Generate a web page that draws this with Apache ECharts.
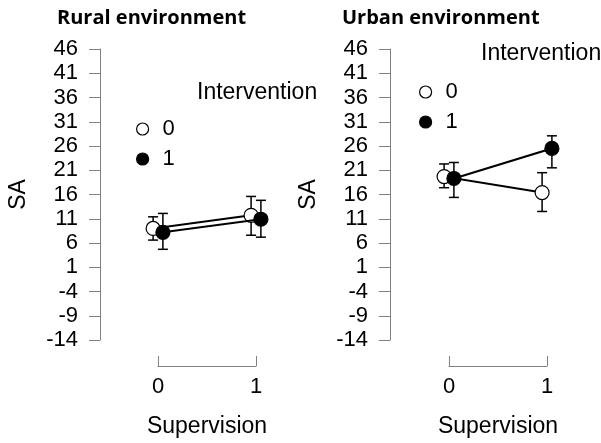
<!DOCTYPE html>
<html><head><meta charset="utf-8">
<script src="https://cdn.jsdelivr.net/npm/echarts@6/dist/echarts.min.js"></script>
<style>html,body{margin:0;padding:0;background:#fff}#c{width:601px;height:443px}</style>
</head><body><div id="c"></div>
<script>
// ---- data ----
const panelTitles = ['Rural environment', 'Urban environment'];
const supervisionLabels = ['0', '1'];
const supervisionValues = [0, 1];
const interventionGroups = ['0', '1'];
const legendTitle = 'Intervention';
const yAxisTitle = 'SA';
const xAxisTitle = 'Supervision';
const yMin = -14, yMax = 46, yStep = 5;

// Rural: intervention 0 / 1 (mean, lower, upper)
const ruralMean0 = [9.0, 11.7];
const ruralLow0  = [6.6, 7.6];
const ruralHigh0 = [11.4, 15.6];
const ruralMean1 = [8.2, 10.9];
const ruralLow1  = [4.7, 7.2];
const ruralHigh1 = [12.1, 14.8];
// Urban
const urbanMean0 = [19.7, 16.4];
const urbanLow0  = [17.4, 12.5];
const urbanHigh0 = [22.3, 20.5];
const urbanMean1 = [19.3, 25.5];
const urbanLow1  = [15.4, 21.5];
const urbanHigh1 = [22.6, 28.1];

const panels = [
  [{mean: ruralMean0, low: ruralLow0, high: ruralHigh0}, {mean: ruralMean1, low: ruralLow1, high: ruralHigh1}],
  [{mean: urbanMean0, low: urbanLow0, high: urbanHigh0}, {mean: urbanMean1, low: urbanLow1, high: urbanHigh1}]
];

// ---- layout / style ----
const dodge = [-0.05, 0.05];
const gridLefts = [158, 449];
const yOffsets = [58, 59];
const titleLefts = [57, 342];
const legendTitlePos = [[197, 81], [481, 42]];
const legendPos = [[136, 118], [419, 81]];
const fills = ['#ffffff', '#000000'];
const axisColor = '#808080';
const font = 'Liberation Sans, Arial, sans-serif';

const chart = echarts.init(document.getElementById('c'), null, {renderer: 'canvas'});

const grids = [], xAxes = [], yAxes = [], series = [], titles = [], legends = [];

panels.forEach((groups, p) => {
  grids.push({left: gridLefts[p], width: 98, top: 49, height: 292});
  xAxes.push({
    gridIndex: p, type: 'value', min: 0, max: 1, interval: 1, offset: 26,
    axisLine: {show: true, onZero: false, lineStyle: {color: axisColor, width: 1}},
    axisTick: {show: true, inside: true, length: 10, lineStyle: {color: axisColor}},
    axisLabel: {color: '#000', fontSize: 22, fontFamily: font, margin: 10,
      formatter: v => supervisionLabels[supervisionValues.indexOf(v)] ?? ''},
    splitLine: {show: false},
    name: xAxisTitle, nameLocation: 'middle', nameGap: 49,
    nameTextStyle: {color: '#000', fontSize: 23, fontFamily: font}
  });
  yAxes.push({
    gridIndex: p, type: 'value', min: yMin, max: yMax, interval: yStep, offset: yOffsets[p],
    axisLine: {show: true, onZero: false, lineStyle: {color: axisColor, width: 1}},
    axisTick: {show: true, inside: false, length: 11, lineStyle: {color: axisColor}},
    axisLabel: {color: '#000', fontSize: 22, fontFamily: font, margin: 22},
    splitLine: {show: false},
    name: yAxisTitle, nameLocation: 'middle', nameGap: 70, nameRotate: 90,
    nameTextStyle: {color: '#000', fontSize: 23, fontFamily: font}
  });
  titles.push({
    text: panelTitles[p], left: titleLefts[p], top: 8, padding: 0,
    textStyle: {fontFamily: 'Open Sans, sans-serif', fontWeight: 'bold', fontSize: 20, color: '#000'}
  });
  titles.push({
    text: legendTitle, left: legendTitlePos[p][0], top: legendTitlePos[p][1], padding: 0,
    textStyle: {fontFamily: font, fontWeight: 'normal', fontSize: 23, color: '#000'}
  });
  legends.push({
    orient: 'vertical', left: legendPos[p][0], top: legendPos[p][1], padding: 0,
    itemWidth: 12, itemHeight: 12, itemGap: 8, selectedMode: false,
    textStyle: {fontFamily: font, fontSize: 22, color: '#000', padding: [0, 0, 0, 9]},
    data: interventionGroups.map((g, gi) => ({
      name: g, icon: 'circle',
      itemStyle: {color: fills[gi], borderColor: '#000', borderWidth: 1.2}
    }))
  });

  groups.forEach((gr, gi) => {
    // error bars
    series.push({
      type: 'custom', name: interventionGroups[gi] + '_err', xAxisIndex: p, yAxisIndex: p, z: 2,
      clip: false, silent: true,
      encode: {x: 0, y: [1, 2]},
      data: supervisionValues.map((x, i) => [x + dodge[gi], gr.low[i], gr.high[i]]),
      renderItem: (params, api) => {
        const lo = api.coord([api.value(0), api.value(1)]);
        const hi = api.coord([api.value(0), api.value(2)]);
        const hw = 5;
        const st = {stroke: '#000', lineWidth: 1.5};
        return {type: 'group', children: [
          {type: 'line', shape: {x1: lo[0], y1: lo[1], x2: hi[0], y2: hi[1]}, style: st},
          {type: 'line', shape: {x1: lo[0] - hw, y1: lo[1], x2: lo[0] + hw, y2: lo[1]}, style: st},
          {type: 'line', shape: {x1: hi[0] - hw, y1: hi[1], x2: hi[0] + hw, y2: hi[1]}, style: st}
        ]};
      }
    });
    // means with connecting line
    series.push({
      type: 'line', name: interventionGroups[gi], xAxisIndex: p, yAxisIndex: p, z: 3 + gi,
      clip: false, silent: true, animation: false,
      data: supervisionValues.map((x, i) => [x + dodge[gi], gr.mean[i]]),
      symbol: 'circle', symbolSize: 14, showSymbol: true,
      lineStyle: {color: '#000', width: 2},
      itemStyle: {color: fills[gi], borderColor: '#000', borderWidth: 1.2}
    });
  });
});

chart.setOption({
  backgroundColor: '#fff',
  animation: false,
  title: titles,
  legend: legends,
  grid: grids,
  xAxis: xAxes,
  yAxis: yAxes,
  series: series
});
</script></body></html>
